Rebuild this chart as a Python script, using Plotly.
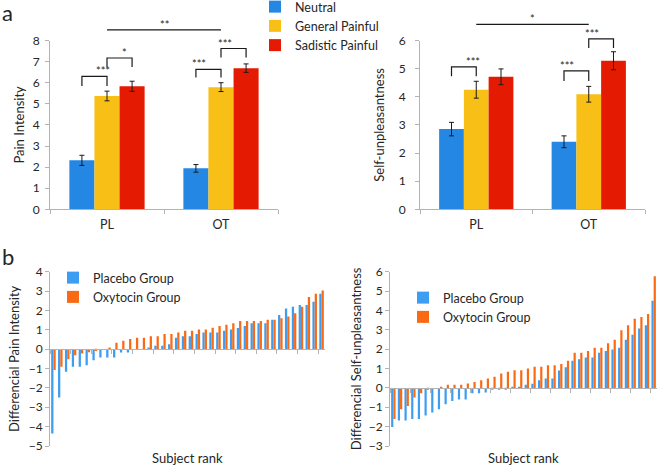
import plotly.graph_objects as go

# ---------------- data ----------------
groups = ["PL", "OT"]
conditions = ["Neutral", "General Painful", "Sadistic Painful"]

pain_neutral = [2.32, 1.94]
pain_general = [5.37, 5.79]
pain_sadistic = [5.83, 6.69]
pain_neutral_err = [0.24, 0.18]
pain_general_err = [0.23, 0.21]
pain_sadistic_err = [0.24, 0.20]

unpl_neutral = [2.85, 2.40]
unpl_general = [4.25, 4.09]
unpl_sadistic = [4.71, 5.28]
unpl_neutral_err = [0.24, 0.21]
unpl_general_err = [0.30, 0.28]
unpl_sadistic_err = [0.28, 0.32]

subject_rank = list(range(1, 41))
placebo_pain = [-4.35, -2.5, -1.17, -0.91, -0.91, -0.83, -0.57, -0.43, -0.43, -0.43,
                -0.17, -0.17, 0.0, 0.0, 0.09, 0.17, 0.17, 0.26, 0.59, 0.67,
                0.67, 0.78, 0.86, 0.86, 0.86, 0.95, 1.02, 1.09, 1.19, 1.34,
                1.34, 1.34, 1.52, 1.76, 2.1, 2.19, 2.28, 2.28, 2.45, 2.86]
oxytocin_pain = [-1.08, -0.91, -0.52, -0.31, -0.22, -0.16, -0.09, 0.0, 0.09, 0.33,
                 0.43, 0.52, 0.59, 0.59, 0.67, 0.67, 0.78, 0.78, 0.86, 0.95,
                 0.95, 1.02, 1.02, 1.1, 1.19, 1.26, 1.34, 1.45, 1.45, 1.45,
                 1.45, 1.52, 1.52, 1.6, 1.69, 1.86, 2.19, 2.69, 2.86, 3.03]
placebo_unpl = [-2.02, -1.68, -1.68, -1.6, -1.6, -1.42, -1.27, -1.1, -0.84, -0.68,
                -0.6, -0.6, -0.27, -0.27, -0.24, -0.1, -0.07, -0.07, 0.05, 0.05,
                0.16, 0.22, 0.4, 0.48, 0.48, 0.9, 1.06, 1.4, 1.48, 1.57,
                1.57, 1.81, 1.91, 1.98, 2.07, 2.48, 2.74, 3.07, 3.24, 4.5]
oxytocin_unpl = [-1.6, -1.1, -0.94, -0.5, -0.27, -0.1, 0.0, 0.05, 0.16, 0.16,
                 0.16, 0.23, 0.31, 0.4, 0.48, 0.57, 0.74, 0.83, 0.91, 0.91,
                 1.0, 1.09, 1.09, 1.17, 1.17, 1.24, 1.4, 1.81, 1.81, 1.91,
                 2.07, 2.07, 2.31, 2.48, 2.98, 3.24, 3.57, 3.66, 3.82, 5.76]

# significance brackets: (group, cond_a, cond_b, top, foot, label)
pain_brackets = [(0, 0, 1, 6.30, 5.84, "***"), (0, 1, 2, 7.17, 6.74, "*"),
                 (1, 0, 1, 6.63, 6.25, "***"), (1, 1, 2, 7.62, 7.20, "***")]
unpl_brackets = [(0, 0, 1, 5.06, 4.73, "***"), (1, 0, 1, 4.92, 4.56, "***"),
                 (1, 1, 2, 6.06, 5.73, "***")]
pain_group_line = (8.5, "**")
unpl_group_line = (6.57, "*")

# ---------------- style ----------------
FONT = "Lato"
TXT = "#262626"
AXC = "#b3b3b3"
cond_colors = ["#2487e4", "#f8c016", "#e51a02"]
placebo_color = "#3d9df2"
oxytocin_color = "#fa6a14"
BARGAP = 0.34

fig = go.Figure()

def add_group_bars(xa, ya, vals, errs, show):
    for k, (name, v, e) in enumerate(zip(conditions, vals, errs)):
        fig.add_trace(go.Bar(
            x=groups, y=v, name=name, marker_color=cond_colors[k],
            marker_line_width=0,
            error_y=dict(type="data", array=e, color="#1a1a1a", thickness=1, width=2.5),
            xaxis=xa, yaxis=ya, showlegend=show, legend="legend",
            legendgroup="g%d" % k,
        ))

add_group_bars("x", "y", [pain_neutral, pain_general, pain_sadistic],
               [pain_neutral_err, pain_general_err, pain_sadistic_err], True)
add_group_bars("x2", "y2", [unpl_neutral, unpl_general, unpl_sadistic],
               [unpl_neutral_err, unpl_general_err, unpl_sadistic_err], False)

for xa, ya, pv, ov, lg in [("x3", "y3", placebo_pain, oxytocin_pain, "legend2"),
                           ("x4", "y4", placebo_unpl, oxytocin_unpl, "legend3")]:
    fig.add_trace(go.Bar(x=subject_rank, y=pv, name="Placebo Group",
                         marker_color=placebo_color, marker_line_width=0,
                         xaxis=xa, yaxis=ya, legend=lg))
    fig.add_trace(go.Bar(x=subject_rank, y=ov, name="Oxytocin Group",
                         marker_color=oxytocin_color, marker_line_width=0,
                         xaxis=xa, yaxis=ya, legend=lg))

# ---------------- axes ----------------
W, H = 660, 465
def px_dom(x0, x1):
    return [x0 / W, x1 / W]
def py_dom(top, bottom):
    return [1 - bottom / H, 1 - top / H]

a_left_x = px_dom(50, 278)
a_right_x = px_dom(420, 645)
a_y = py_dom(40.5, 209.3)
b_left_x = px_dom(50, 325)
b_right_x = px_dom(390, 657)
b_y = py_dom(271.7, 446)

tickfont = dict(family=FONT, size=12, color=TXT)
titlefont = dict(family=FONT, size=13, color=TXT)

def yax(domain, anchor, rng, dtick, title, standoff, labelgap):
    return dict(domain=domain, anchor=anchor, range=rng, dtick=dtick, automargin=False,
                showgrid=False, zeroline=False, showline=True, linecolor=AXC,
                linewidth=1, ticks="outside", ticklen=4, tickcolor=AXC,
                ticklabelstandoff=labelgap,
                tickfont=tickfont, title=dict(text=title, font=titlefont, standoff=standoff))

def xax_cat(domain, anchor, labels=True):
    return dict(domain=domain, anchor=anchor, type="category", automargin=False,
                showgrid=False, zeroline=False, showline=True, linecolor=AXC,
                linewidth=1, ticks="outside", ticklen=4, tickcolor=AXC,
                tickson="boundaries", showticklabels=labels, ticklabelstandoff=4,
                tickfont=dict(family=FONT, size=12.5, color=TXT))

def zero_pos(ydom, rng):
    return ydom[0] + (0 - rng[0]) / (rng[1] - rng[0]) * (ydom[1] - ydom[0])

rng3 = [-5, 4]
rng4 = [-3, 6]

fig.update_layout(
    xaxis=xax_cat(a_left_x, "y"),
    yaxis=yax(a_y, "x", [0, 8], 1, "Pain Intensity", 5, 3),
    xaxis2=xax_cat(a_right_x, "y2"),
    yaxis2=yax(a_y, "x2", [0, 6], 1, "Self-unpleasantness", 11, 7),
    xaxis3=dict(xax_cat(b_left_x, "free", False), position=zero_pos(b_y, rng3)),
    yaxis3=yax(b_y, "x3", rng3, 1, "Differencial Pain Intensity", 6, 0),
    xaxis4=dict(xax_cat(b_right_x, "free", False), position=zero_pos(b_y, rng4)),
    yaxis4=yax(b_y, "x4", rng4, 1, "Differencial Self-unpleasantness", 4, 0),
)

# ---------------- brackets ----------------
shapes = []
annotations = []

def bar_x(group, cond):
    w = (1 - BARGAP) / 3
    return group + (cond - 1) * w

def xfrac(x):
    return (x + 0.5) / 2.0

def add_brackets(xref, yref, ymax, brackets, group_line):
    for g, c1, c2, top, foot, label in brackets:
        xa, xb = xfrac(bar_x(g, c1)), xfrac(bar_x(g, c2))
        shapes.append(dict(type="path", xref=xref, yref=yref,
                           path=f"M {xa} {foot/ymax} L {xa} {top/ymax} L {xb} {top/ymax} L {xb} {foot/ymax}",
                           line=dict(color="#1a1a1a", width=1.2)))
        annotations.append(dict(xref=xref, yref=yref, x=(xa + xb) / 2, y=top / ymax,
                                text=label, showarrow=False, yanchor="bottom", yshift=-3,
                                font=dict(family=FONT, size=11, color=TXT)))
    y, label = group_line
    xa, xb = xfrac(0), xfrac(1)
    shapes.append(dict(type="line", xref=xref, yref=yref, x0=xa, x1=xb,
                       y0=y / ymax, y1=y / ymax, line=dict(color="#1a1a1a", width=1.2)))
    annotations.append(dict(xref=xref, yref=yref, x=(xa + xb) / 2, y=y / ymax,
                            text=label, showarrow=False, yanchor="bottom", yshift=-3,
                            font=dict(family=FONT, size=11, color=TXT)))

add_brackets("x domain", "y domain", 8, pain_brackets, pain_group_line)
add_brackets("x2 domain", "y2 domain", 6, unpl_brackets, unpl_group_line)

annotations += [
    dict(xref="paper", yref="paper", x=0.0, y=1.0, text="a", showarrow=False,
         xanchor="left", yanchor="top", yshift=3, font=dict(family=FONT, size=22, color=TXT)),
    dict(xref="paper", yref="paper", x=0.0, y=1 - 241 / H, text="b", showarrow=False,
         xanchor="left", yanchor="top", font=dict(family=FONT, size=22, color=TXT)),
    dict(xref="x3 domain", yref="paper", x=0.5, y=1 - 457.5 / H, text="Subject rank",
         showarrow=False, yanchor="middle", font=dict(family=FONT, size=13, color=TXT)),
    dict(xref="x4 domain", yref="paper", x=0.5, y=1 - 457.5 / H, text="Subject rank",
         showarrow=False, yanchor="middle", font=dict(family=FONT, size=13, color=TXT)),
]

legfont = dict(family=FONT, size=12.5, color=TXT)
fig.update_layout(
    width=W, height=H,
    margin=dict(l=0, r=0, t=0, b=0, autoexpand=False),
    paper_bgcolor="white", plot_bgcolor="white",
    barmode="group", bargap=BARGAP, bargroupgap=0,
    shapes=shapes, annotations=annotations,
    legend=dict(x=255 / W, y=1 + 8 / H, xanchor="left", yanchor="top", font=legfont,
                bgcolor="rgba(0,0,0,0)", itemwidth=30, traceorder="normal",
                tracegroupgap=6),
    legend2=dict(x=53 / W, y=1 - 263 / H, xanchor="left", yanchor="top", font=legfont,
                 bgcolor="rgba(0,0,0,0)", itemwidth=30),
    legend3=dict(x=403 / W, y=1 - 283 / H, xanchor="left", yanchor="top", font=legfont,
                 bgcolor="rgba(0,0,0,0)", itemwidth=30),
    font=dict(family=FONT, color=TXT),
)

fig.write_html("out.html", config={"displayModeBar": False},
               post_script="document.body.style.margin='0';")
